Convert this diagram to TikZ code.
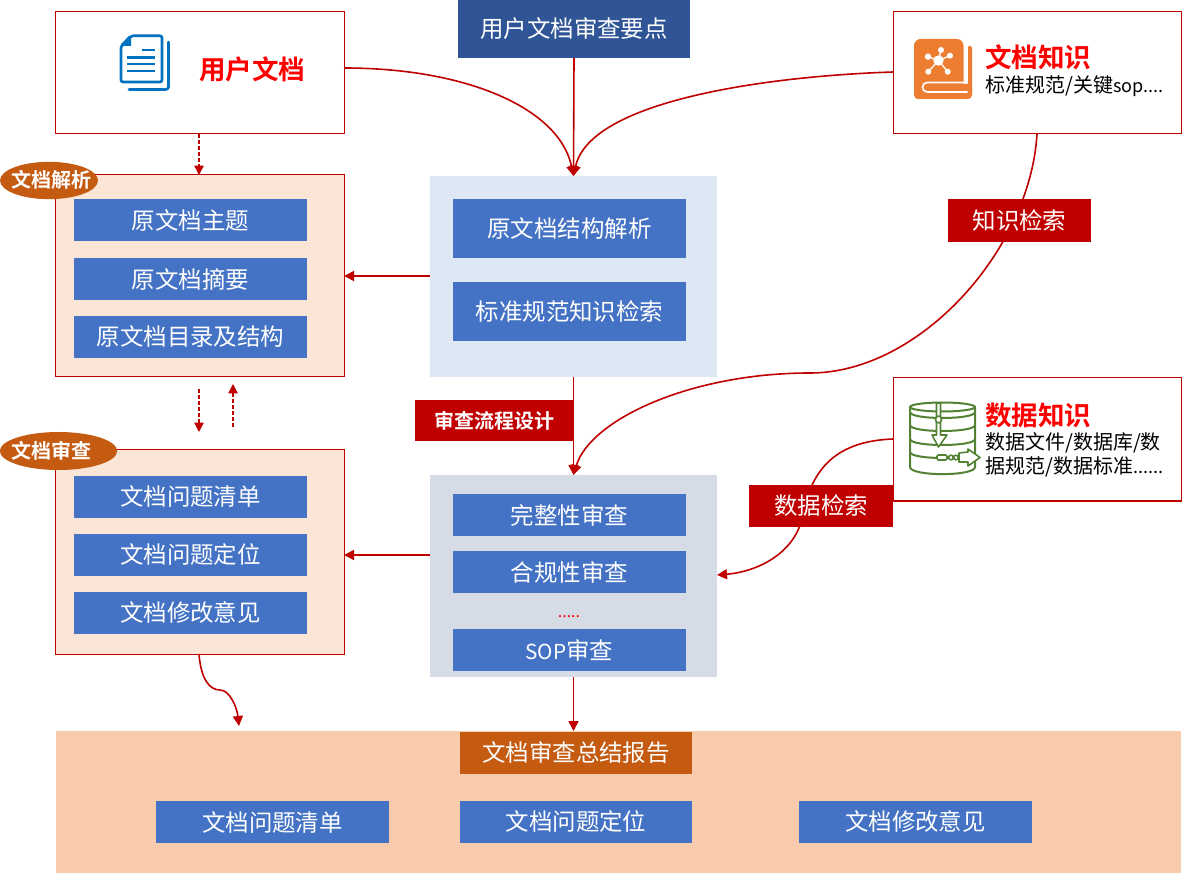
\documentclass[tikz,border=0pt]{standalone}
\usepackage{fontspec}
\setmainfont{Noto Sans CJK SC}[BoldFont={Noto Sans CJK SC Bold}]
\usetikzlibrary{arrows.meta,shapes.geometric}
\definecolor{dred}{HTML}{C00000}
\definecolor{bluebtn}{HTML}{4472C4}
\definecolor{navy}{HTML}{2F5597}
\definecolor{peach}{HTML}{FBE5D6}
\definecolor{peachd}{HTML}{F8CBAD}
\definecolor{rust}{HTML}{C55A11}
\definecolor{paleb}{HTML}{DEE8F4}
\definecolor{paleg}{HTML}{D6DCE5}
\definecolor{docblue}{HTML}{0070C0}
\definecolor{bookor}{HTML}{ED7D31}
\definecolor{dbgreen}{HTML}{548235}
\newcommand\fsz[1]{\fontsize{#1}{#1}\selectfont}
\tikzset{
  base/.style={inner sep=0pt,outer sep=0pt,align=center},
  btn/.style={base,fill=bluebtn,text=white,font=\fsz{17.6}},
  redbox/.style={base,fill=dred,text=white,font=\fsz{17.6}},
  whitebox/.style={base,draw=dred,line width=.75pt,fill=white},
  pane/.style={base,draw=dred,line width=.75pt,fill=peach},
  flat/.style={base},
  tag/.style={ellipse,inner sep=0pt,outer sep=0pt,fill=rust},
  tagtext/.style={base,text=white,font=\fsz{15}\bfseries},
  head/.style={anchor=west,inner sep=0pt,text=red,font=\fsz{19.9}\bfseries},
  sub/.style={anchor=west,inner sep=0pt,text=black,font=\fsz{15}},
  conn/.style={draw=dred,line width=1.2pt,-{Triangle[length=7.5pt,width=7.5pt]}},
  dconn/.style={draw=dred,line width=1.1pt,dash pattern=on 3pt off 1.5pt,-{Triangle[length=7pt,width=7pt]}},
}
% name, style, x1, y1, x2, y2, text (reference pixels)
\newcommand\bx[7]{%
  \pgfmathsetmacro\mycx{(#3+#5)/2}\pgfmathsetmacro\mycy{(#4+#6)/2}%
  \pgfmathsetmacro\myw{(#5-#3)*.75}\pgfmathsetmacro\myh{(#6-#4)*.75}%
  \node[#2,minimum width=\myw pt,minimum height=\myh pt] (#1) at (\mycx,\mycy) {#7};}
\begin{document}
\begin{tikzpicture}[x=.75pt,y=-.75pt]
\useasboundingbox (0,0) rectangle (1182,873);
\fill[white] (0,0) rectangle (1182,873);
% panes
\bx{bottom}{flat,fill=peachd}{56}{731}{1181}{873}{}
\bx{ubox}{whitebox}{55}{12}{344}{134}{}
\bx{kbox}{whitebox}{893}{12}{1181}{134}{}
\bx{dbox}{whitebox}{893}{378}{1181}{501}{}
\bx{points}{flat,fill=navy,text=white,font=\fsz{17.6}}{458}{0}{690}{58}{用户文档审查要点}
\bx{parsepane}{pane}{55}{175}{344}{377}{}
\bx{reviewpane}{pane}{55}{450}{344}{654}{}
\bx{midtop}{flat,fill=paleb}{430}{176}{717}{377}{}
\bx{midlow}{flat,fill=paleg}{430}{475}{717}{677}{}
% buttons
\bx{a1}{btn}{74}{199}{307}{241}{原文档主题}
\bx{a2}{btn}{74}{258}{307}{300}{原文档摘要}
\bx{a3}{btn}{74}{316}{307}{358}{原文档目录及结构}
\bx{b1}{btn}{74}{476}{307}{518}{文档问题清单}
\bx{b2}{btn}{74}{534}{307}{576}{文档问题定位}
\bx{b3}{btn}{74}{592}{307}{634}{文档修改意见}
\bx{c1}{btn}{453}{199}{686}{258}{原文档结构解析}
\bx{c2}{btn}{453}{282}{686}{341}{标准规范知识检索}
\bx{d1}{btn}{453}{494}{686}{536}{完整性审查}
\bx{d2}{btn}{453}{551}{686}{593}{合规性审查}
\bx{d3}{btn}{453}{629}{686}{671}{{\fontsize{15.5}{15.5}\selectfont SOP}审查}
\node[base,text=red,font=\fsz{12}] (dots) at (569,617) {.....};
\bx{e0}{btn,fill=rust}{460}{732}{692}{774}{文档审查总结报告}
\bx{e1}{btn}{156}{801}{389}{843}{文档问题清单}
\bx{e2}{btn}{460}{801}{692}{843}{文档问题定位}
\bx{e3}{btn}{799}{801}{1032}{843}{文档修改意见}
% connectors
\coordinate (dashA) at (199,389);
\coordinate (dashAe) at (199,432);
\coordinate (dashB) at (233,427);
\coordinate (dashBe) at (233,384);
\coordinate (sEnd) at (239,726);
\coordinate (ubot) at (199,134);
\coordinate (utop) at (199,175);
\coordinate (rbot) at (199,654);
\coordinate (ke) at (1037,134);
\coordinate (kmid) at (810,373);
\coordinate (dmid) at (717,575);
\draw[conn] ([yshift=3.75pt]ubox.east) .. controls (470,68) and (560,110) .. (midtop.north);
\draw[conn] ([yshift=.75pt]kbox.west) .. controls (770,76) and (590,100) .. (midtop.north);
\draw[conn] (points.south) -- (midtop.north);
\draw[conn] (midtop.west |- 0,276) -- (parsepane.east |- 0,276);
\draw[conn] (midlow.west |- 0,555) -- (reviewpane.east |- 0,555);
\draw[conn] (midtop.south) -- (midlow.north);
\draw[conn] (midlow.south) -- (bottom.north -| midlow.south);
\draw[conn] (ke) .. controls (1030,250) and (920,373) .. (kmid) .. controls (690,373) and (590,420) .. (midlow.north);
\draw[conn] (dbox.west |- 0,439) .. controls (840,441) and (812,465) .. (803,515) .. controls (795,555) and (755,572) .. (dmid);
\draw[dconn] (ubot) -- (utop);
\draw[dconn] (dashA) -- (dashAe);
\draw[dconn] (dashB) -- (dashBe);
\draw[conn] (rbot) .. controls (201,680) and (210,690) .. (220,690) .. controls (230,690) and (237,708) .. (sEnd);
% labels on connectors
\bx{lflow}{redbox,font=\fsz{15}\bfseries}{415}{400}{574}{441}{审查流程设计}
\bx{lk}{redbox}{948}{199}{1091}{242}{知识检索}
\bx{ld}{redbox}{749}{485}{893}{527}{数据检索}
% tags
\node[tag,minimum width=73.5pt,minimum height=28pt] (t1) at (49,180.5) {};
\node[tagtext] (t1text) at (52,180) {文档解析};
\node[tag,minimum width=88pt,minimum height=28.5pt] (t2) at (58.5,451) {};
\node[tagtext] (t2text) at (52,451) {文档审查};
% box texts
\node[head] (h1) at (199,69) {用户文档};
\node[head] (h2) at (985,57) {文档知识};
\node[sub] (s2) at (985,86) {标准规范/关键{\fontsize{13.5}{13.5}\selectfont sop....}};
\node[head] (h3) at (985,415) {数据知识};
\node[sub] (s3a) at (985,443) {数据文件/数据库/数};
\node[sub] (s3b) at (985,467) {据规范/数据标准{\fontsize{13.5}{13.5}\selectfont ......}};
% document icon
\begin{scope}[docblue,line width=2pt,line join=round,line cap=round]
\draw[rounded corners=2pt] (168.5,42) -- (168.5,89.5) -- (129,89.5);
\draw[rounded corners=1.5pt] (131,35.8) -- (162,35.8) -- (162,82) -- (121,82) -- (121,46) -- cycle;
\fill (131,36) -- (131,46) -- (121,46) -- cycle;
\draw[line cap=butt,line width=2.2pt] (141.5,50) -- (154.5,50) (127,57.3) -- (154.5,57.3) (127,64) -- (154.5,64) (127,71) -- (154.5,71);
\end{scope}
% book icon
\begin{scope}
\fill[bookor,rounded corners=5pt] (914,39) rectangle (963.5,99);
\fill[bookor,rounded corners=3pt] (914,84) rectangle (972,99);
\fill[bookor,rounded corners=1.5pt] (967.5,46) rectangle (972,95);
\draw[white,line width=1.2pt,line cap=butt,rounded corners=3.5pt] (967.5,82.5) -- (922.5,82.5) -- (922.5,92) -- (967.5,92);
\fill[white] (963.5,38) rectangle (967.5,83);
\draw[white,line width=1pt] (938.5,60.5) -- (928,56.7) (938.5,60.5) -- (941,50) (938.5,60.5) -- (950,55.7) (938.5,60.5) -- (947.7,71.7) (938.5,60.5) -- (928.3,71.7);
\fill[white] (938.5,60.5) circle[radius=5.2] (928,56.7) circle[radius=3.2] (941,50) circle[radius=3] (950,55.7) circle[radius=3] (947.7,71.7) circle[radius=3] (928.3,71.7) circle[radius=3];
\end{scope}
% database icon
\begin{scope}[dbgreen,line width=1.5pt,line join=round]
\draw (910,407) -- (910,467) .. controls (910,476.5) and (975,476.5) .. (975,467) -- (975,407);
\draw (942.5,407) ellipse[x radius=32.5,y radius=4.5];
\draw (910,412) .. controls (910,420) and (975,420) .. (975,412);
\draw (910,425) .. controls (910,433) and (975,433) .. (975,425);
\draw (910,439) .. controls (910,447) and (975,447) .. (975,439);
\draw (910,452) .. controls (910,460) and (975,460) .. (975,452);
\draw[fill=white,line width=1.2pt] (936.5,403) -- (940.5,403) -- (940.5,435) -- (947,435) -- (938.5,447) -- (932,435) -- (936.5,435) -- cycle;
\draw[fill=white,line width=1.2pt] (938.5,419.5) ellipse[x radius=3,y radius=3.5];
\draw[fill=white,line width=1.2pt] (968,452) -- (968,449) -- (980,457.5) -- (968,466) -- (968,462) -- (959,462) -- (959,453) -- cycle;
\draw[fill=white,line width=1.2pt,rounded corners=1pt] (937,455) rectangle (947,460);
\draw[fill=white,line width=1.2pt] (951,457.5) circle[radius=2.3] (956,457.5) circle[radius=2.3];
\end{scope}
\end{tikzpicture}
\end{document}
